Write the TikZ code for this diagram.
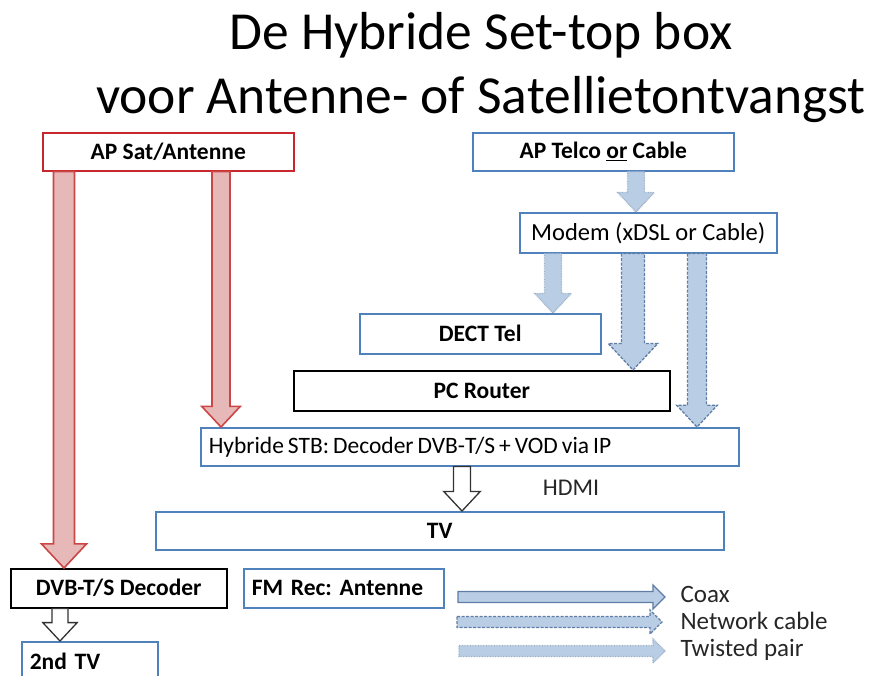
\documentclass[tikz,border=0pt]{standalone}
\usepackage{fontspec}
\setmainfont{Carlito}
\usetikzlibrary{calc}

\definecolor{boxblue}{RGB}{79,129,189}
\definecolor{boxred}{RGB}{200,40,45}
\definecolor{arrfill}{RGB}{185,205,229}
\definecolor{arrline}{RGB}{95,125,165}
\definecolor{redfill}{RGB}{230,184,183}
\definecolor{redline}{RGB}{205,70,70}

% block arrow pointing down: [half shaft]{style}{x}{from}{to}
\newcommand{\fatdown}[5][9]{%
  \draw[#2] let \p1=(#4.south -| #3,0), \p2=(#5.north -| #3,0) in
    (\x1-#1pt,\y1) -- (\x1-#1pt,\y2+2.3*#1pt) -- (\x1-2.15*#1pt,\y2+2.3*#1pt)
    -- (\x1,\y2) -- (\x1+2.15*#1pt,\y2+2.3*#1pt) -- (\x1+#1pt,\y2+2.3*#1pt)
    -- (\x1+#1pt,\y1) -- cycle;}
% block arrow pointing right (legend)
\newcommand{\fatright}[4][5.5]{%
  \draw[#2] let \p1=(#3), \p2=(#4) in
    (\x1,\y1+#1pt) -- (\x2-2.2*#1pt,\y1+#1pt) -- (\x2-2.2*#1pt,\y1+2.2*#1pt)
    -- (\x2,\y1) -- (\x2-2.2*#1pt,\y1-2.2*#1pt) -- (\x2-2.2*#1pt,\y1-#1pt)
    -- (\x1,\y1-#1pt) -- cycle;}

\begin{document}
\frenchspacing
\begin{tikzpicture}[x=1pt,y=-1pt,
    box/.style={draw=boxblue, line width=1.5pt, fill=white, anchor=north west,
      inner sep=0pt, font=\fontsize{23.5}{26}\selectfont\bfseries},
    redbox/.style={box, draw=boxred},
    blackbox/.style={box, draw=black},
    leftbox/.style={box, inner xsep=8pt, align=left},
    plain/.style={font=\fontsize{#1}{26}\selectfont},
    coax/.style={draw=arrline, fill=arrfill, line width=1.3pt},
    netcable/.style={coax, dash pattern=on 3pt off 1.5pt},
    twisted/.style={draw=arrline!60, fill=arrfill, line width=1.3pt,
      dash pattern=on 0.8pt off 0.8pt},
    redcoax/.style={draw=redline, fill=redfill, line width=1.6pt},
    hdmi/.style={draw=black!80, fill=white, line width=1.3pt},
    lbl/.style={font=\fontsize{25}{28}\selectfont, text=black!85}]
  \useasboundingbox (0,0) rectangle (873,675);
  \clip (0,0) rectangle (873,675);

  % title
  \node[font=\fontsize{53.5}{56}\selectfont] (title1) at (481,35) {De Hybride Set-top box};
  \node[font=\fontsize{53.5}{56}\selectfont] (title2) at (481,100) {voor Antenne- of Satellietontvangst};

  % sources
  \node[redbox, minimum width=251pt, minimum height=38pt] (apsat) at (42,132) {AP Sat/Antenne};
  \node[box, minimum width=261pt, minimum height=38pt] (aptelco) at (472,132) {AP Telco \underline{or} Cable};
  \node[box, plain=24.5, minimum width=257pt, minimum height=40pt] (modem) at (519,212) {Modem (xDSL or Cable)};

  % devices
  \node[box, minimum width=241pt, minimum height=40pt] (dect) at (359,313) {DECT Tel};
  \node[blackbox, minimum width=376pt, minimum height=40pt] (router) at (293,370) {PC Router};
  \node[leftbox, plain=23.5, text width=522pt, minimum height=38pt] (stb) at (200,427)
    {\spaceskip=0.17em Hybride STB: Decoder DVB-T/S + VOD via IP};
  \node[box, minimum width=568pt, minimum height=38pt] (tv) at (155,511) {TV};
  \node[blackbox, minimum width=216pt, minimum height=39pt] (decoder) at (10,568) {DVB-T/S Decoder};
  \node[leftbox, text width=184pt, minimum height=39pt] (fmrec) at (243,568) {FM Rec: Antenne};
  \node[leftbox, text width=120pt, minimum height=40pt] (tv2) at (21,641) {2nd TV};
  \node[lbl, font=\fontsize{24}{26}\selectfont] (hdmi) at (571,488) {HDMI};

  % antenne / satelliet
  \fatdown[10.5]{redcoax}{64}{apsat}{decoder}
  \fatdown[9]{redcoax}{221}{apsat}{stb}

  % telco
  \fatdown[8.5]{twisted}{636}{aptelco}{modem}
  \fatdown[8.5]{twisted}{553}{modem}{dect}
  \fatdown[11.5]{netcable}{633}{modem}{router}
  \fatdown[9.5]{netcable}{697}{modem}{stb}

  % hdmi
  \fatdown[8.5]{hdmi}{462}{stb}{tv}
  \fatdown[8]{hdmi}{60}{decoder}{tv2}

  % legend
  \coordinate (coaxS) at (458,597);  \coordinate (coaxE) at (665,597);
  \coordinate (netS) at (457,622);   \coordinate (netE) at (662,622);
  \coordinate (tpS) at (459,651);    \coordinate (tpE) at (665,651);
  \fatright{coax}{coaxS}{coaxE}
  \fatright{netcable}{netS}{netE}
  \fatright{twisted}{tpS}{tpE}
  \node[lbl, anchor=west] (coaxlbl) at (677,594) {Coax};
  \node[lbl, anchor=west] (netlbl) at (677,621) {Network cable};
  \node[lbl, anchor=west] (tplbl) at (677,650) {Twisted pair};
\end{tikzpicture}
\end{document}
